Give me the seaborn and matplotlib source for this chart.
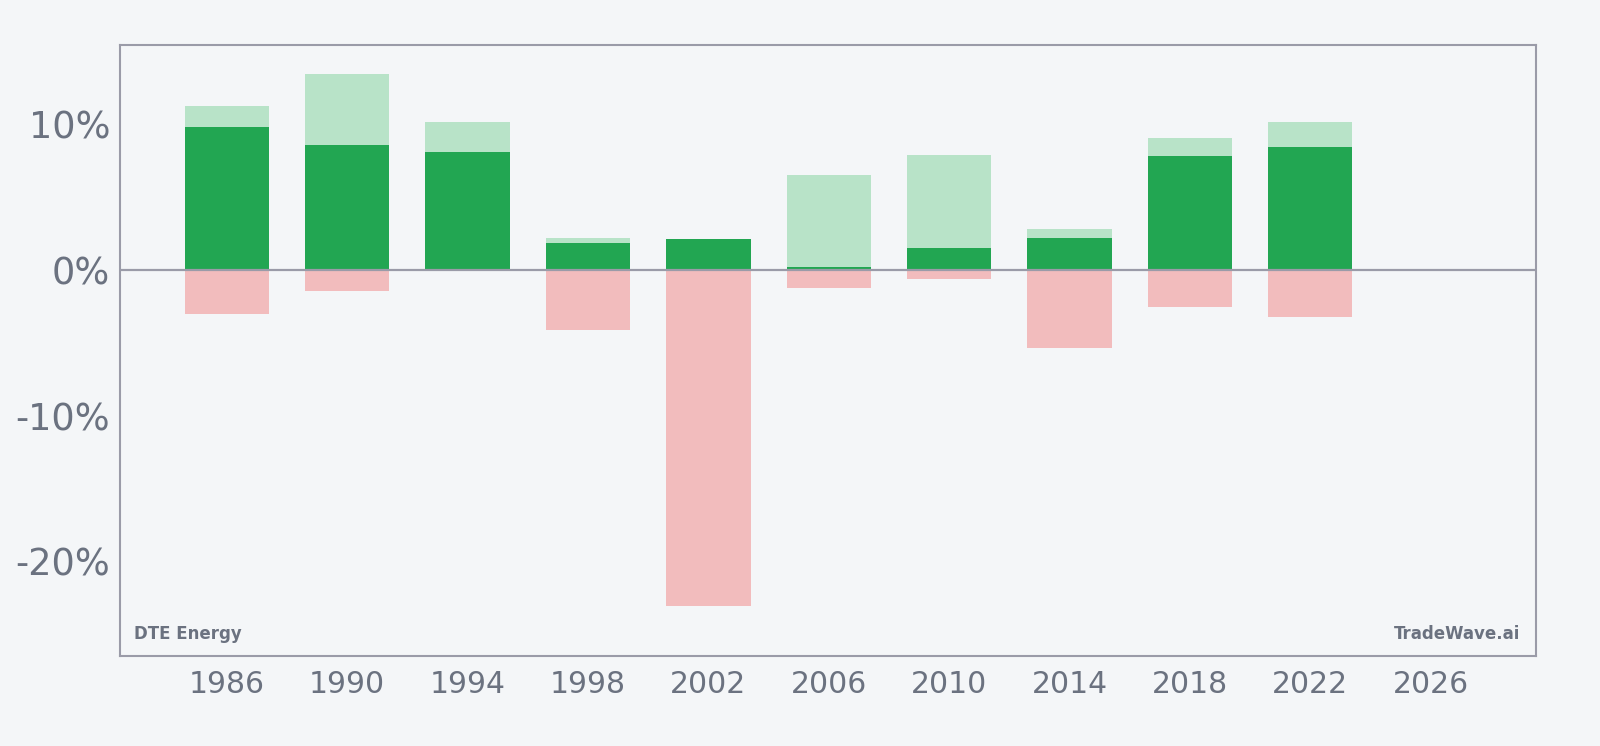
import seaborn as sns
import matplotlib.pyplot as plt
from matplotlib.ticker import FuncFormatter

# yearly return ranges (percent), 4-year buckets
years = [1986, 1990, 1994, 1998, 2002, 2006, 2010, 2014, 2018, 2022]
high_vals = [11.3, 13.45, 10.15, 2.2, 2.15, 6.55, 7.9, 2.85, 9.1, 10.15]
net_vals = [9.8, 8.6, 8.1, 1.85, 2.15, 0.2, 1.55, 2.2, 7.8, 8.45]
low_vals = [-3.0, -1.45, 0.0, -4.1, -23.05, -1.25, -0.6, -5.35, -2.55, -3.25]
x_ticks = [1986, 1990, 1994, 1998, 2002, 2006, 2010, 2014, 2018, 2022, 2026]
y_ticks = [-20, -10, 0, 10]

bg = "#f4f6f8"
grey = "#9a9ba8"
txt = "#6b7280"

sns.set_theme(style="white")
plt.rcParams['font.family'] = ['DejaVu Sans']

fig = plt.figure(figsize=(16, 7.46), dpi=100, facecolor=bg)
ax = fig.add_axes([0.075, 0.1206, 0.885, 0.819])
ax.set_facecolor(bg)

sns.barplot(x=years, y=low_vals, native_scale=True, width=0.7, color="#f2bcbd",
            saturation=1, errorbar=None, linewidth=0, ax=ax)
sns.barplot(x=years, y=high_vals, native_scale=True, width=0.7, color="#b8e3c8",
            saturation=1, errorbar=None, linewidth=0, ax=ax)
sns.barplot(x=years, y=net_vals, native_scale=True, width=0.7, color="#22a652",
            saturation=1, errorbar=None, linewidth=0, ax=ax)

ax.axhline(0, color=grey, lw=1.6, zorder=5)

ax.set_xlim(1982.45, 2029.5)
ax.set_ylim(-26.5, 15.45)
ax.set_xticks(x_ticks)
ax.set_xticklabels([str(y) for y in x_ticks])
ax.set_yticks(y_ticks)
ax.yaxis.set_major_formatter(FuncFormatter(lambda v, p: f"{v:.0f}%"))
ax.tick_params(axis="x", labelsize=21.5, colors=grey, labelcolor=txt, length=4, width=1, pad=6)
ax.tick_params(axis="y", labelsize=26.5, colors=grey, labelcolor=txt, length=4, width=1, pad=3)
ax.set_xlabel("")
ax.set_ylabel("")

for s in ax.spines.values():
    s.set_visible(True)
    s.set_color(grey)
    s.set_linewidth(1.5)

ax.text(0.01, 0.022, "DTE Energy", transform=ax.transAxes, fontsize=12,
        fontweight="bold", color=txt, ha="left", va="bottom")
ax.text(0.989, 0.022, "TradeWave.ai", transform=ax.transAxes, fontsize=12,
        fontweight="bold", color=txt, ha="right", va="bottom")

plt.savefig("out.png", dpi=100, facecolor=bg)
